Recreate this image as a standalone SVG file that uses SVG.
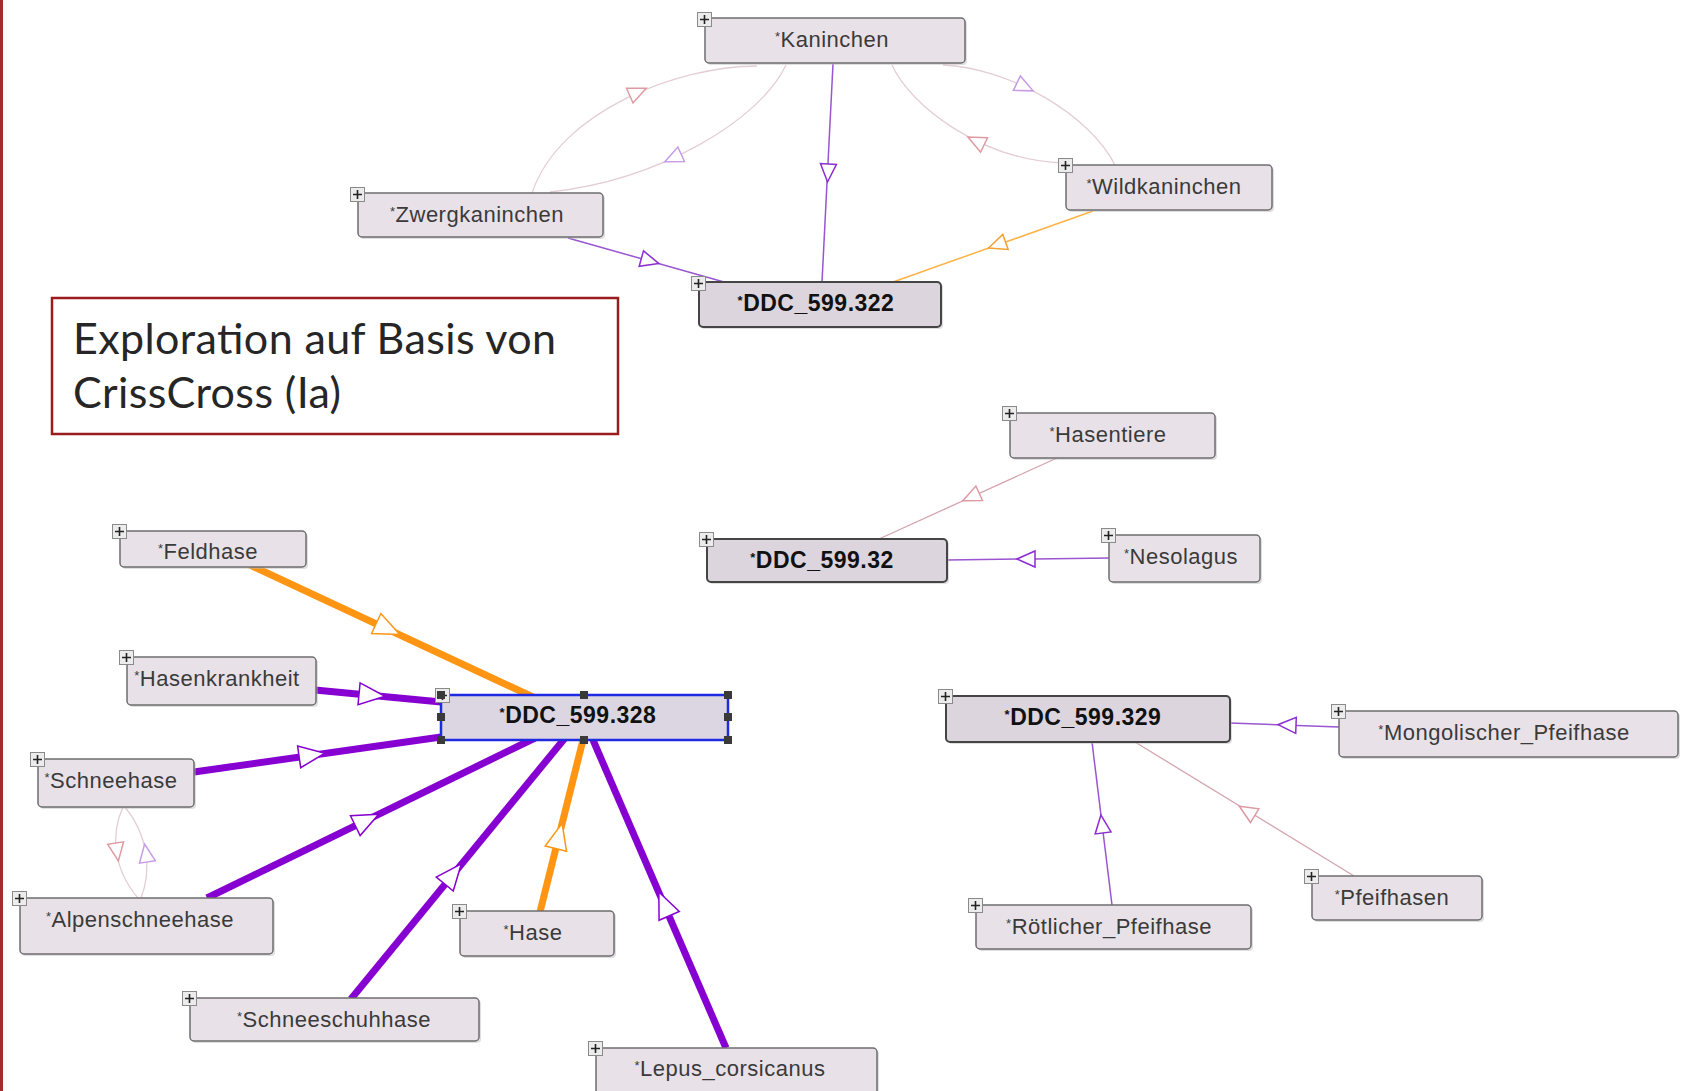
<svg xmlns="http://www.w3.org/2000/svg" xmlns:xlink="http://www.w3.org/1999/xlink" width="1683" height="1091" viewBox="0 0 1683 1091">
<style>
.box{fill:#e8e2e8;stroke:#6e6e6e;stroke-width:1.5}
.ddc .box{fill:#dcd5de;stroke:#454545;stroke-width:2}
.sel .box{fill:#dcd6e2;stroke:#1f2be0;stroke-width:2.5}
.shd{fill:#b8b8b8;opacity:.45}
.lbl{font-family:"Liberation Sans",Arial,sans-serif;font-size:22px;fill:#3a3a3a;letter-spacing:0.5px;text-anchor:middle}
.ddc .lbl,.sel .lbl{font-weight:bold;font-size:23px;fill:#111}
.ast{font-size:13px}
.e{fill:none}
.thinP{stroke:#9a55d0;stroke-width:1.5}
.thinO{stroke:#ffb347;stroke-width:1.5}
.thinR{stroke:#d4a4ae;stroke-width:1.3}
.curve{stroke:#e4cdd6;stroke-width:1.3}
.thickP{stroke:#8600d2;stroke-width:7}
.thickO{stroke:#ff9512;stroke-width:7}
.aP{fill:#fff;stroke:#8b2fd0;stroke-width:1.5}
.aL{fill:#fff;stroke:#c79be6;stroke-width:1.5}
.aR{fill:#fff;stroke:#de9aa2;stroke-width:1.5}
.aO{fill:#fff;stroke:#f5a030;stroke-width:1.5}
.aTP{fill:#fff;stroke:#8600d2;stroke-width:1.5}
.aTO{fill:#fff;stroke:#ff9512;stroke-width:1.5}
.hdl{fill:#3a3a3a}
.title{font-family:Lato,"Open Sans",sans-serif;font-size:43px;fill:#262626}
</style>
<defs>
<path id="ah" d="M9,0 L-9,-8 L-9,8 Z"/>
<path id="ahT" d="M13,0 L-13,-11 L-13,11 Z"/>
<g id="plus"><rect x="0.5" y="0.5" width="14" height="14" fill="#ececec" stroke="#8a8a8a" stroke-width="1"/><path d="M7.5,3 V12 M3,7.5 H12" stroke="#222" stroke-width="1.6"/></g>
</defs>
<rect x="0" y="0" width="1683" height="1091" fill="#ffffff"/>
<rect x="0" y="0" width="3" height="1091" fill="#a52a2a"/>

<g id="connectors">
<!-- top cluster -->
<path class="e curve" d="M757,66 C680,66 560,110 532,193"/>
<use href="#ah" class="aR" transform="translate(638,92) rotate(-24)"/>
<path class="e curve" d="M786,65 C760,120 660,180 550,192"/>
<use href="#ah" class="aL" transform="translate(673,158) rotate(155.5)"/>
<path class="e curve" d="M943,65 C1010,68 1090,115 1115,165"/>
<use href="#ah" class="aL" transform="translate(1025,87) rotate(25.5)"/>
<path class="e curve" d="M892,65 C910,105 980,160 1063,163"/>
<use href="#ah" class="aR" transform="translate(976,141) rotate(206)"/>
<path class="e thinP" d="M833,64 L822,282"/>
<use href="#ah" class="aP" transform="translate(828,173) rotate(92.9)"/>
<path class="e thinP" d="M568,238 L724,282"/>
<use href="#ah" class="aP" transform="translate(650,261) rotate(15.8)"/>
<path class="e thinO" d="M1093,211 L893,282"/>
<use href="#ah" class="aO" transform="translate(997,245) rotate(160.4)"/>
<!-- middle cluster -->
<path class="e thinR" d="M1057,458 L879,539"/>
<use href="#ah" class="aR" transform="translate(971,497) rotate(155.5)"/>
<path class="e thinP" d="M1109,558 L947,560"/>
<use href="#ah" class="aP" transform="translate(1026,559) rotate(180)"/>
<!-- right cluster -->
<path class="e thinP" d="M1339,727 L1230,723"/>
<use href="#ah" class="aP" transform="translate(1287,725) rotate(182)"/>
<path class="e thinP" d="M1112,905 L1092,742"/>
<use href="#ah" class="aP" transform="translate(1102,824) rotate(-97)"/>
<path class="e thinR" d="M1354,876 L1135,742"/>
<use href="#ah" class="aR" transform="translate(1247,811) rotate(-148.5)"/>
<!-- Schneehase / Alpenschneehase -->
<path class="e curve" d="M123,807 C110,835 114,870 138,898"/>
<use href="#ah" class="aR" transform="translate(117,852) rotate(81)"/>
<path class="e curve" d="M141,898 C152,870 148,835 125,807"/>
<use href="#ah" class="aL" transform="translate(146,853) rotate(-99)"/>
<!-- thick edges to DDC_599.328 -->
<path class="e thickO" d="M250,565 L533,697"/>
<use href="#ahT" class="aTO" transform="translate(388,629) rotate(25)"/>
<path class="e thickP" d="M315,690 L441,702"/>
<use href="#ahT" class="aTP" transform="translate(372,695) rotate(5.4)"/>
<path class="e thickP" d="M194,772 L441,737"/>
<use href="#ahT" class="aTP" transform="translate(312,755) rotate(-8.1)"/>
<path class="e thickP" d="M207,898 L535,738"/>
<use href="#ahT" class="aTP" transform="translate(367,820) rotate(-26)"/>
<path class="e thickP" d="M351,999 L565,738"/>
<use href="#ahT" class="aTP" transform="translate(453,874) rotate(-50.6)"/>
<path class="e thickO" d="M540,912 L583,740"/>
<use href="#ahT" class="aTO" transform="translate(559,836) rotate(-76)"/>
<path class="e thickP" d="M726,1048 L593,740"/>
<use href="#ahT" class="aTP" transform="translate(664,904) rotate(-113.4)"/>
</g>

<g id="n-kaninchen"><rect class="shd" x="707" y="20" width="260" height="45" rx="4"/><rect class="box" x="705" y="18" width="260" height="45" rx="4"/><use href="#plus" x="697" y="12"/><text class="lbl" x="832" y="46.5"><tspan class="ast" dy="-6">*</tspan><tspan dy="6">Kaninchen</tspan></text></g>
<g id="n-zwergkaninchen"><rect class="shd" x="360" y="195" width="245" height="44" rx="4"/><rect class="box" x="358" y="193" width="245" height="44" rx="4"/><use href="#plus" x="350" y="187"/><text class="lbl" x="477" y="221.5"><tspan class="ast" dy="-6">*</tspan><tspan dy="6">Zwergkaninchen</tspan></text></g>
<g id="n-wildkaninchen"><rect class="shd" x="1068" y="167" width="206" height="45" rx="4"/><rect class="box" x="1066" y="165" width="206" height="45" rx="4"/><use href="#plus" x="1058" y="158"/><text class="lbl" x="1164" y="193.5"><tspan class="ast" dy="-6">*</tspan><tspan dy="6">Wildkaninchen</tspan></text></g>
<g id="n-ddc322" class="ddc"><rect class="shd" x="701" y="284" width="242" height="45" rx="4"/><rect class="box" x="699" y="282" width="242" height="45" rx="4"/><use href="#plus" x="691" y="276"/><text class="lbl" x="816" y="311"><tspan class="ast" dy="-6">*</tspan><tspan dy="6">DDC_599.322</tspan></text></g>
<g id="n-hasentiere"><rect class="shd" x="1012" y="415" width="205" height="45" rx="4"/><rect class="box" x="1010" y="413" width="205" height="45" rx="4"/><use href="#plus" x="1002" y="406"/><text class="lbl" x="1108" y="441.5"><tspan class="ast" dy="-6">*</tspan><tspan dy="6">Hasentiere</tspan></text></g>
<g id="n-ddc32" class="ddc"><rect class="shd" x="709" y="541" width="240" height="43" rx="4"/><rect class="box" x="707" y="539" width="240" height="43" rx="4"/><use href="#plus" x="699" y="532"/><text class="lbl" x="822" y="567.5"><tspan class="ast" dy="-6">*</tspan><tspan dy="6">DDC_599.32</tspan></text></g>
<g id="n-nesolagus"><rect class="shd" x="1111" y="537" width="151" height="47" rx="4"/><rect class="box" x="1109" y="535" width="151" height="47" rx="4"/><use href="#plus" x="1101" y="528"/><text class="lbl" x="1181" y="564"><tspan class="ast" dy="-6">*</tspan><tspan dy="6">Nesolagus</tspan></text></g>
<g id="n-feldhase"><rect class="shd" x="122" y="533" width="186" height="36" rx="4"/><rect class="box" x="120" y="531" width="186" height="36" rx="4"/><use href="#plus" x="112" y="524"/><text class="lbl" x="208" y="558.5"><tspan class="ast" dy="-6">*</tspan><tspan dy="6">Feldhase</tspan></text></g>
<g id="n-hasenkrankheit"><rect class="shd" x="129" y="659" width="189" height="48" rx="4"/><rect class="box" x="127" y="657" width="189" height="48" rx="4"/><use href="#plus" x="119" y="650"/><text class="lbl" x="217" y="685.5"><tspan class="ast" dy="-6">*</tspan><tspan dy="6">Hasenkrankheit</tspan></text></g>
<g id="n-ddc328" class="sel"><rect class="box" x="441" y="695" width="287" height="45"/><use href="#plus" x="435" y="688"/><text class="lbl" x="578" y="722.5"><tspan class="ast" dy="-6">*</tspan><tspan dy="6">DDC_599.328</tspan></text>
<rect class="hdl" x="437" y="691" width="8" height="8"/><rect class="hdl" x="580" y="691" width="8" height="8"/><rect class="hdl" x="724" y="691" width="8" height="8"/><rect class="hdl" x="437" y="713" width="8" height="8"/><rect class="hdl" x="724" y="713" width="8" height="8"/><rect class="hdl" x="437" y="736" width="8" height="8"/><rect class="hdl" x="580" y="736" width="8" height="8"/><rect class="hdl" x="724" y="736" width="8" height="8"/></g>
<g id="n-schneehase"><rect class="shd" x="40" y="761" width="156" height="48" rx="4"/><rect class="box" x="38" y="759" width="156" height="48" rx="4"/><use href="#plus" x="30" y="752"/><text class="lbl" x="111" y="787.5"><tspan class="ast" dy="-6">*</tspan><tspan dy="6">Schneehase</tspan></text></g>
<g id="n-alpenschneehase"><rect class="shd" x="22" y="900" width="253" height="56" rx="4"/><rect class="box" x="20" y="898" width="253" height="56" rx="4"/><use href="#plus" x="12" y="891"/><text class="lbl" x="140" y="927"><tspan class="ast" dy="-6">*</tspan><tspan dy="6">Alpenschneehase</tspan></text></g>
<g id="n-hase"><rect class="shd" x="462" y="913" width="154" height="45" rx="4"/><rect class="box" x="460" y="911" width="154" height="45" rx="4"/><use href="#plus" x="452" y="904"/><text class="lbl" x="533" y="939.5"><tspan class="ast" dy="-6">*</tspan><tspan dy="6">Hase</tspan></text></g>
<g id="n-schneeschuhhase"><rect class="shd" x="192" y="1000" width="289" height="43" rx="4"/><rect class="box" x="190" y="998" width="289" height="43" rx="4"/><use href="#plus" x="182" y="991"/><text class="lbl" x="334" y="1026.5"><tspan class="ast" dy="-6">*</tspan><tspan dy="6">Schneeschuhhase</tspan></text></g>
<g id="n-lepus"><rect class="shd" x="598" y="1050" width="281" height="50" rx="4"/><rect class="box" x="596" y="1048" width="281" height="50" rx="4"/><use href="#plus" x="588" y="1041"/><text class="lbl" x="730" y="1076"><tspan class="ast" dy="-6">*</tspan><tspan dy="6">Lepus_corsicanus</tspan></text></g>
<g id="n-ddc329" class="ddc"><rect class="shd" x="948" y="698" width="284" height="46" rx="4"/><rect class="box" x="946" y="696" width="284" height="46" rx="4"/><use href="#plus" x="938" y="689"/><text class="lbl" x="1083" y="724.5"><tspan class="ast" dy="-6">*</tspan><tspan dy="6">DDC_599.329</tspan></text></g>
<g id="n-mongolischer"><rect class="shd" x="1341" y="713" width="339" height="46" rx="4"/><rect class="box" x="1339" y="711" width="339" height="46" rx="4"/><use href="#plus" x="1331" y="704"/><text class="lbl" x="1504" y="739.5"><tspan class="ast" dy="-6">*</tspan><tspan dy="6">Mongolischer_Pfeifhase</tspan></text></g>
<g id="n-roetlicher"><rect class="shd" x="978" y="907" width="275" height="44" rx="4"/><rect class="box" x="976" y="905" width="275" height="44" rx="4"/><use href="#plus" x="968" y="898"/><text class="lbl" x="1109" y="933.5"><tspan class="ast" dy="-6">*</tspan><tspan dy="6">Rötlicher_Pfeifhase</tspan></text></g>
<g id="n-pfeifhasen"><rect class="shd" x="1314" y="878" width="170" height="44" rx="4"/><rect class="box" x="1312" y="876" width="170" height="44" rx="4"/><use href="#plus" x="1304" y="869"/><text class="lbl" x="1392" y="904.5"><tspan class="ast" dy="-6">*</tspan><tspan dy="6">Pfeifhasen</tspan></text></g>

<g id="title-box"><rect x="52" y="298" width="566" height="136" fill="#ffffff" stroke="#9b1c1c" stroke-width="2.5"/>
<text class="title" x="73" y="354" textLength="483">Exploration auf Basis von</text>
<text class="title" x="73" y="408" textLength="268">CrissCross (Ia)</text></g>
</svg>
